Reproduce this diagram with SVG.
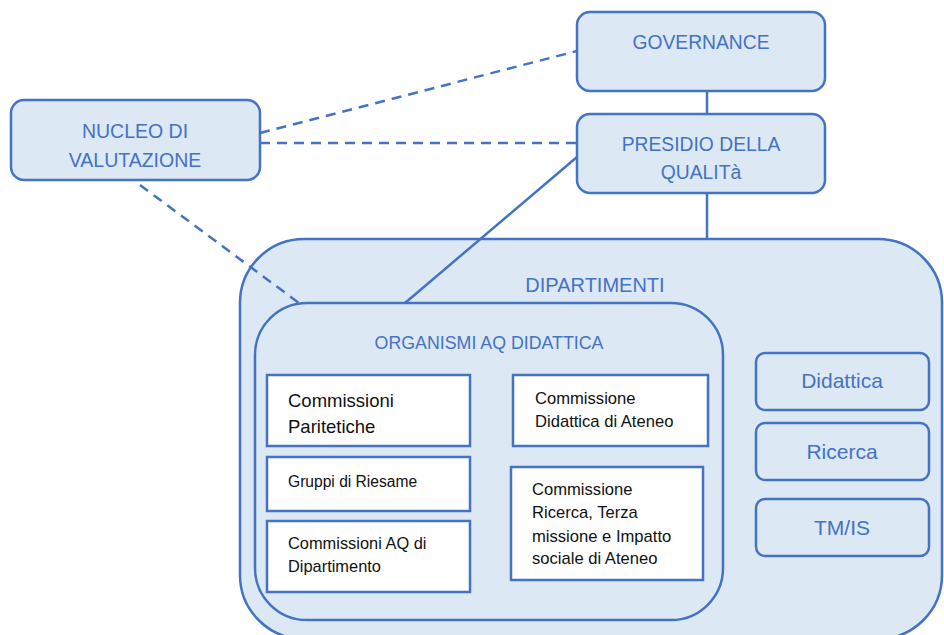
<svg xmlns="http://www.w3.org/2000/svg" width="944" height="635" viewBox="0 0 944 635">
<style>
.top{fill:#dde8f5;stroke:#4472c4;stroke-width:2.5}
.white{fill:#ffffff;stroke:#4472c4;stroke-width:2.5}
.bt{font-family:"Liberation Sans",Arial,sans-serif;fill:#4472c4;text-anchor:middle}
.kt{font-family:"Liberation Sans",Arial,sans-serif;fill:#111111}
.solid{fill:none;stroke:#4472c4;stroke-width:2.5}
.dash{fill:none;stroke:#4472c4;stroke-width:2.5;stroke-dasharray:10 7}
</style>
<rect width="944" height="635" fill="#ffffff"/>
<g id="dipartimenti">
<rect class="top" x="240" y="239" width="702" height="400" rx="64"/>
<text class="bt" x="595" y="292" font-size="20">DIPARTIMENTI</text>
</g>
<g id="organismi">
<rect class="top" x="255" y="303" width="468" height="317" rx="52"/>
<text class="bt" x="489" y="349" font-size="17.8">ORGANISMI AQ DIDATTICA</text>
</g>
<g id="governance">
<rect class="top" x="577" y="12" width="248" height="79" rx="13"/>
<text class="bt" x="701" y="49" font-size="19.3">GOVERNANCE</text>
</g>
<g id="presidio">
<rect class="top" x="577" y="114" width="248" height="79" rx="13"/>
<text class="bt" x="701" y="151" font-size="19.3">PRESIDIO DELLA</text>
<text class="bt" x="701" y="179" font-size="19.3">QUALITà</text>
</g>
<g id="nucleo">
<rect class="top" x="11" y="100" width="249" height="80" rx="13"/>
<text class="bt" x="135" y="138" font-size="19.5">NUCLEO DI</text>
<text class="bt" x="135" y="167" font-size="19.5">VALUTAZIONE</text>
</g>
<g id="commissioni-paritetiche">
<rect class="white" x="267" y="375" width="203" height="71"/>
<text class="kt" x="288" y="407" font-size="18.5">Commissioni</text>
<text class="kt" x="288" y="433" font-size="18.5">Paritetiche</text>
</g>
<g id="gruppi-riesame">
<rect class="white" x="267" y="457" width="203" height="54"/>
<text class="kt" x="288" y="487" font-size="15.6">Gruppi di Riesame</text>
</g>
<g id="commissioni-aq">
<rect class="white" x="267" y="521" width="203" height="71"/>
<text class="kt" x="288" y="549" font-size="16.4">Commissioni AQ di</text>
<text class="kt" x="288" y="572" font-size="16.4">Dipartimento</text>
</g>
<g id="commissione-didattica">
<rect class="white" x="513" y="375" width="195" height="71"/>
<text class="kt" x="535" y="404" font-size="16.6">Commissione</text>
<text class="kt" x="535" y="427" font-size="16.6">Didattica di Ateneo</text>
</g>
<g id="commissione-ricerca">
<rect class="white" x="511" y="467" width="192" height="113"/>
<text class="kt" x="532" y="495" font-size="16.6">Commissione</text>
<text class="kt" x="532" y="518" font-size="16.6">Ricerca, Terza</text>
<text class="kt" x="532" y="542" font-size="16.6">missione e Impatto</text>
<text class="kt" x="532" y="564" font-size="16.6">sociale di Ateneo</text>
</g>
<g id="didattica">
<rect class="top" x="756" y="353" width="173" height="57" rx="9"/>
<text class="bt" x="842" y="388" font-size="21">Didattica</text>
</g>
<g id="ricerca">
<rect class="top" x="756" y="423" width="173" height="57" rx="9"/>
<text class="bt" x="842" y="459" font-size="21">Ricerca</text>
</g>
<g id="tmis">
<rect class="top" x="756" y="499" width="173" height="57" rx="9"/>
<text class="bt" x="842" y="535" font-size="21">TM/IS</text>
</g>
<g id="connectors">
<line class="solid" x1="707" y1="91" x2="707" y2="114"/>
<line class="solid" x1="707" y1="193" x2="707" y2="239"/>
<line class="solid" x1="577" y1="157" x2="405" y2="303"/>
<line class="dash" x1="260" y1="133" x2="577" y2="51"/>
<line class="dash" x1="260" y1="143" x2="577" y2="143"/>
<line class="dash" x1="140" y1="185" x2="299" y2="303"/>
</g>
</svg>
